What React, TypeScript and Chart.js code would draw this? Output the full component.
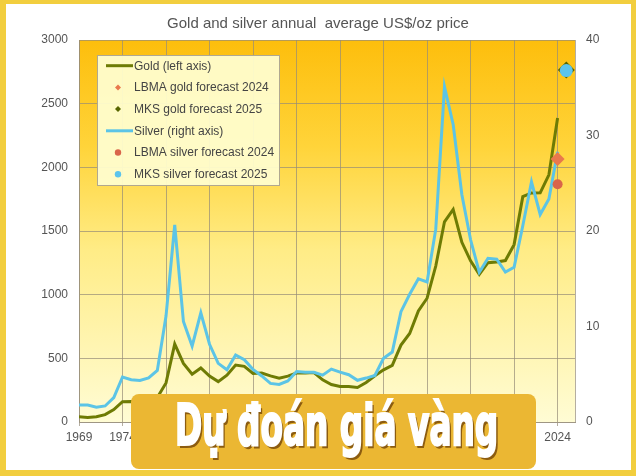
import React, { useEffect, useRef } from 'react';
import { Chart, registerables } from 'chart.js';

Chart.register(...registerables);

const years = [
  1969, 1970, 1971, 1972, 1973, 1974, 1975, 1976, 1977, 1978, 1979, 1980, 1981, 1982,
  1983, 1984, 1985, 1986, 1987, 1988, 1989, 1990, 1991, 1992, 1993, 1994, 1995, 1996,
  1997, 1998, 1999, 2000, 2001, 2002, 2003, 2004, 2005, 2006, 2007, 2008, 2009, 2010,
  2011, 2012, 2013, 2014, 2015, 2016, 2017, 2018, 2019, 2020, 2021, 2022, 2023, 2024,
];

const gold = [
  41, 36, 41, 58, 97, 159, 161, 125, 148, 193, 307, 612, 460, 376,
  424, 361, 317, 368, 447, 437, 381, 384, 362, 344, 360, 384, 384, 388,
  331, 294, 279, 279, 271, 310, 363, 410, 445, 604, 695, 872, 972, 1225,
  1572, 1669, 1411, 1266, 1160, 1251, 1257, 1268, 1393, 1770, 1799, 1800, 1941, 2388,
];

const silver = [
  1.79, 1.77, 1.55, 1.68, 2.56, 4.71, 4.42, 4.35, 4.62, 5.4, 11.09, 20.63, 10.52, 7.95,
  11.44, 8.14, 6.14, 5.47, 7.01, 6.53, 5.5, 4.82, 4.04, 3.94, 4.3, 5.29, 5.2, 5.2,
  4.9, 5.54, 5.22, 4.95, 4.37, 4.6, 4.88, 6.67, 7.32, 11.55, 13.38, 14.99, 14.67, 20.19,
  35.12, 31.15, 23.79, 19.08, 15.68, 17.14, 17.05, 15.71, 16.21, 20.55, 25.14, 21.73, 23.35, 28.3,
];

const forecastYears = [2024, 2025];
const lbmaGoldForecast = [2066];
const mksGoldForecast = [2765];
const lbmaSilverForecast = [24.9];
const mksSilverForecast = [36.8];

const xTickYears = [1969, 1974, 1979, 1984, 1989, 1994, 1999, 2004, 2009, 2014, 2019, 2024];
const xRange = [1969, 2026];
const goldAxisTicks = [0, 3000, 500];
const silverAxisTicks = [0, 40, 10];

const labels = [
  'Gold (left axis)',
  'LBMA gold forecast 2024',
  'MKS gold forecast 2025',
  'Silver (right axis)',
  'LBMA silver forecast 2024',
  'MKS silver forecast 2025',
];

const TITLE = 'Gold and silver annual  average US$/oz price';
const OVERLAY = 'Dự đoán giá vàng';

const FONT = "'Liberation Sans', Arial, sans-serif";
const GOLD_COLOR = '#6E7B04';
const SILVER_COLOR = '#5CC4E6';
const GRID = 'rgba(150,140,120,0.7)';

const plotBg = {
  id: 'plotBg',
  beforeDraw(chart: any) {
    const { ctx, chartArea: a } = chart;
    if (!a) return;
    const g = ctx.createLinearGradient(0, a.top, 0, a.bottom);
    g.addColorStop(0, '#FDBE0C');
    g.addColorStop(0.28, '#FFD43A');
    g.addColorStop(0.55, '#FFEC86');
    g.addColorStop(1, '#FFFCD4');
    ctx.save();
    ctx.fillStyle = g;
    ctx.fillRect(a.left, a.top, a.right - a.left, a.bottom - a.top);
    ctx.restore();
  },
};

const boxLegend = {
  id: 'boxLegend',
  afterDatasetsDraw(chart: any) {
    const { ctx, chartArea: a } = chart;
    const left = a.left + 18;
    const top = a.top + 15;
    const w = 182;
    const h = 130;
    ctx.save();
    ctx.fillStyle = 'rgba(255,253,205,0.95)';
    ctx.fillRect(left, top, w, h);
    ctx.strokeStyle = '#B0A890';
    ctx.lineWidth = 1;
    ctx.strokeRect(left + 0.5, top + 0.5, w, h);
    const rowH = 21.7;
    chart.data.datasets.forEach((ds: any, i: number) => {
      const cy = top + 10.7 + i * rowH;
      const sx = left + 21;
      if (ds.showLine) {
        ctx.strokeStyle = ds.borderColor;
        ctx.lineWidth = 3;
        ctx.beginPath();
        ctx.moveTo(left + 9, cy);
        ctx.lineTo(left + 36, cy);
        ctx.stroke();
      } else {
        ctx.fillStyle = ds.backgroundColor;
        ctx.beginPath();
        if (ds.pointStyle === 'rectRot') {
          const r = 3;
          ctx.moveTo(sx, cy - r);
          ctx.lineTo(sx + r, cy);
          ctx.lineTo(sx, cy + r);
          ctx.lineTo(sx - r, cy);
          ctx.closePath();
        } else {
          ctx.arc(sx, cy, 3.2, 0, Math.PI * 2);
        }
        ctx.fill();
      }
      ctx.fillStyle = '#444';
      ctx.font = `12px ${FONT}`;
      ctx.textBaseline = 'middle';
      ctx.textAlign = 'left';
      ctx.fillText(ds.label, left + 37, cy + 0.5);
    });
    ctx.restore();
  },
};

function ChartView() {
  const ref = useRef<HTMLCanvasElement>(null);
  useEffect(() => {
    if (!ref.current) return;
    const goldPts = years.map((y, i) => ({ x: y, y: gold[i] }));
    const silverPts = years.map((y, i) => ({ x: y, y: silver[i] }));
    const chart = new Chart(ref.current, {
      type: 'line',
      data: {
        datasets: [
          {
            label: labels[0], data: goldPts, yAxisID: 'y', showLine: true,
            borderColor: GOLD_COLOR, backgroundColor: GOLD_COLOR, borderWidth: 3,
            pointRadius: 0, tension: 0, order: 5,
          },
          {
            label: labels[1], data: [{ x: forecastYears[0], y: lbmaGoldForecast[0] }], yAxisID: 'y', showLine: false,
            pointStyle: 'rectRot', pointRadius: 7, borderWidth: 0,
            backgroundColor: '#E9784C', borderColor: '#E9784C', order: 1,
          },
          {
            label: labels[2], data: [{ x: forecastYears[1], y: mksGoldForecast[0] }], yAxisID: 'y', showLine: false,
            pointStyle: 'rectRot', pointRadius: 8.5, borderWidth: 0,
            backgroundColor: '#586600', borderColor: '#586600', order: 3,
          },
          {
            label: labels[3], data: silverPts, yAxisID: 'y1', showLine: true,
            borderColor: SILVER_COLOR, backgroundColor: SILVER_COLOR, borderWidth: 3,
            pointRadius: 0, tension: 0, order: 4,
          },
          {
            label: labels[4], data: [{ x: forecastYears[0], y: lbmaSilverForecast[0] }], yAxisID: 'y1', showLine: false,
            pointStyle: 'circle', pointRadius: 5, borderWidth: 0,
            backgroundColor: '#D9654A', borderColor: '#D9654A', order: 2,
          },
          {
            label: labels[5], data: [{ x: forecastYears[1], y: mksSilverForecast[0] }], yAxisID: 'y1', showLine: false,
            pointStyle: 'circle', pointRadius: 6.5, borderWidth: 0,
            backgroundColor: '#5CC4EC', borderColor: '#5CC4EC', order: 0,
          },
        ] as any,
      },
      options: {
        animation: false,
        responsive: false,
        maintainAspectRatio: false,
        events: [],
        layout: { padding: { left: 0, right: 0, top: 5, bottom: 0 } },
        plugins: {
          legend: { display: false },
          tooltip: { enabled: false },
          title: {
            display: true,
            text: TITLE,
            color: '#555',
            font: { family: FONT, size: 15, weight: 'normal' as any },
            padding: { top: 10, bottom: 7 },
          },
        },
        scales: {
          x: {
            type: 'linear',
            min: xRange[0],
            max: xRange[1],
            afterBuildTicks: (s: any) => { s.ticks = xTickYears.map((v) => ({ value: v })); },
            afterFit: (s: any) => { s.height = 54; },
            grid: { color: GRID, tickLength: 4, drawTicks: true },
            border: { color: GRID },
            ticks: {
              color: '#555', padding: 4, maxRotation: 0, autoSkip: false,
              font: { family: FONT, size: 12 },
              callback: (v: any) => String(v),
            },
          },
          y: {
            position: 'left',
            min: goldAxisTicks[0],
            max: goldAxisTicks[1],
            afterFit: (s: any) => { s.width = 79; },
            grid: { color: GRID, drawTicks: false },
            border: { color: GRID },
            ticks: {
              stepSize: goldAxisTicks[2], color: '#555', padding: 11,
              font: { family: FONT, size: 12 },
              callback: (v: any) => String(v),
            },
          },
          y1: {
            position: 'right',
            min: silverAxisTicks[0],
            max: silverAxisTicks[1],
            afterFit: (s: any) => { s.width = 61; },
            grid: { drawOnChartArea: false, drawTicks: false },
            border: { color: GRID },
            ticks: {
              stepSize: silverAxisTicks[2], color: '#555', padding: 11,
              font: { family: FONT, size: 12 },
              callback: (v: any) => String(v),
            },
          },
        },
      } as any,
      plugins: [plotBg, boxLegend],
    });
    return () => chart.destroy();
  }, []);
  return (
    <canvas
      ref={ref}
      width={636}
      height={476}
      style={{ position: 'absolute', left: 0, top: 0, width: 636, height: 476 }}
    />
  );
}

function Overlay() {
  const ref = useRef<HTMLSpanElement>(null);
  useEffect(() => {
    const el = ref.current;
    if (!el) return;
    const w = el.offsetWidth;
    if (w > 0) el.style.transform = `scale(${323 / w}, 1.08)`;
  }, []);
  return (
    <div
      style={{
        position: 'absolute', left: 131, top: 394, width: 405, height: 75,
        background: '#EBB733', borderRadius: 8,
      }}
    >
      <span
        ref={ref}
        style={{
          position: 'absolute', left: 44, top: 3, display: 'inline-block',
          whiteSpace: 'nowrap', transformOrigin: '0 0',
          fontFamily: "'DejaVu Sans Condensed', 'DejaVu Sans', sans-serif",
          fontWeight: 'bold', fontSize: 52, lineHeight: 1, color: '#FFFFFF',
          WebkitTextStroke: '2px #FFFFFF',
          textShadow: '3px 3px 0 #8C5C10',
        } as any}
      >
        {OVERLAY}
      </span>
    </div>
  );
}

export default function App() {
  return (
    <div style={{ position: 'fixed', left: 0, top: 0, width: 636, height: 476, background: '#F2CE3E', overflow: 'hidden' }}>
      <div style={{ position: 'absolute', left: 6, top: 4, width: 625, height: 466, background: '#FFFFFF' }} />
      <ChartView />
      <Overlay />
    </div>
  );
}
